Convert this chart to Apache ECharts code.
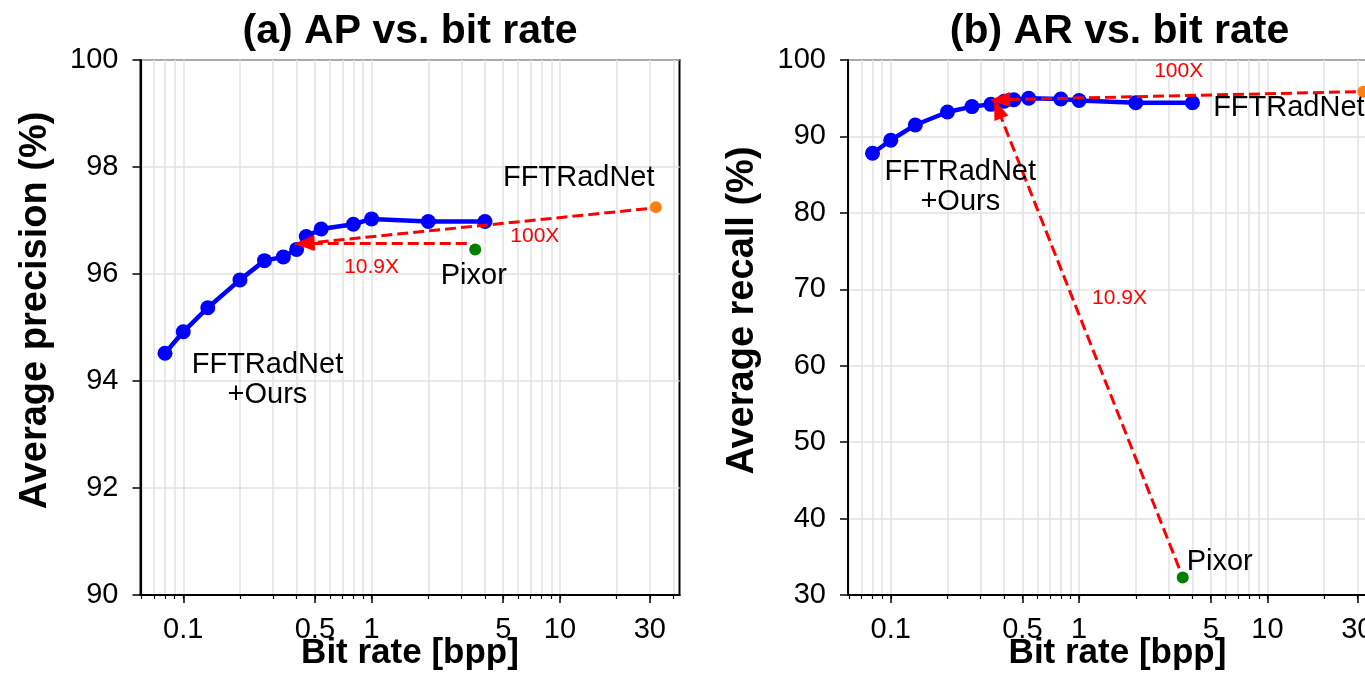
<!DOCTYPE html>
<html><head><meta charset="utf-8">
<script src="https://cdn.jsdelivr.net/npm/echarts@6/dist/echarts.min.js"></script>
<style>html,body{margin:0;padding:0;background:#fff}#c{width:1365px;height:692px}</style>
</head><body><div id="c"></div>
<script>
// ---- data ----
const bitRates = [0.08, 0.1, 0.135, 0.2, 0.27, 0.34, 0.4, 0.45, 0.54, 0.8, 1.0, 2.0, 4.0];
const oursAP   = [94.52, 94.92, 95.37, 95.89, 96.25, 96.32, 96.46, 96.70, 96.84, 96.93, 97.03, 96.98, 96.98];
const oursAR   = [87.8, 89.5, 91.5, 93.2, 93.9, 94.2, 94.6, 94.8, 95.0, 94.9, 94.7, 94.4, 94.4];
const pixorPoint = { rate: 3.55, ap: 96.46, ar: 32.3 };
const fftPoint   = { rate: 32.3, ap: 97.25, ar: 95.85 };
const xLabelTicks = [0.1, 0.5, 1, 5, 10, 30];
const xMinorTicks = [0.06, 0.07, 0.08, 0.09, 0.1, 0.2, 0.3, 0.4, 0.5, 0.6, 0.7, 0.8, 0.9, 1, 2, 3, 4, 5, 6, 7, 8, 9, 10, 20, 30, 40];
const apTicks = [90, 92, 94, 96, 98, 100];
const arTicks = [30, 40, 50, 60, 70, 80, 90, 100];
// arrows: [fromRate, fromVal, toRate, toVal]
const apArrow100 = [29, 97.22, 0.44, 96.57];
const apArrow109 = [3.2, 96.57, 0.44, 96.57];
const arArrow100 = [29.5, 95.85, 0.38, 94.8];
const arArrow109 = [3.4, 33.5, 0.37, 93.6];
// annotation texts: [text, rate, value, color, size]
const apNotes = [
  ['FFTRadNet', 12.6, 97.79, '#000000', 29],
  ['FFTRadNet\n+Ours', 0.28, 94.02, '#000000', 29],
  ['Pixor', 3.49, 95.96, '#000000', 29],
  ['10.9X', 1.0, 96.13, '#ff0000', 21],
  ['100X', 7.36, 96.71, '#ff0000', 21]
];
const arNotes = [
  ['FFTRadNet', 13.0, 93.72, '#000000', 29],
  ['FFTRadNet\n+Ours', 0.234, 83.38, '#000000', 29],
  ['Pixor', 5.58, 34.32, '#000000', 29],
  ['100X', 3.38, 98.56, '#ff0000', 21],
  ['10.9X', 1.64, 68.86, '#ff0000', 21]
];

const L = Math.log10;
const FONT = '"Liberation Sans", Arial, Helvetica, sans-serif';
const XMIN = -1.227, XMAX = 1.635;
const gridColor = '#e2e2e2';

function fmtX(v) {
  const r = Math.pow(10, v);
  return String(Math.round(r * 1000) / 1000);
}

function xAxes(gi) {
  return [
    {
      type: 'value', gridIndex: gi, min: XMIN, max: XMAX, position: 'bottom',
      name: 'Bit rate [bpp]', nameLocation: 'middle', nameGap: 41, nameMoveOverlap: false,
      nameTextStyle: { fontSize: 35, fontWeight: 'bold', color: '#000', fontFamily: FONT },
      axisLine: { show: true, onZero: false, lineStyle: { color: '#000', width: 2 } },
      axisTick: { show: true, customValues: xLabelTicks.map(L), length: 8, lineStyle: { color: '#000', width: 1.5 } },
      axisLabel: { show: true, customValues: xLabelTicks.map(L), formatter: fmtX, fontSize: 29, color: '#000', fontFamily: FONT, margin: 20 },
      splitLine: { show: false }
    },
    {
      type: 'value', gridIndex: gi, min: XMIN, max: XMAX, position: 'bottom',
      axisLine: { show: false, onZero: false },
      axisTick: { show: true, customValues: xMinorTicks.map(L), length: 4, lineStyle: { color: '#000', width: 1.2 } },
      axisLabel: { show: false },
      splitLine: { show: true, lineStyle: { color: gridColor, width: 1.5 } }
    }
  ];
}

function yAxis(gi, name, ticks, gap) {
  return {
    type: 'value', gridIndex: gi, min: ticks[0], max: ticks[ticks.length - 1],
    interval: ticks[1] - ticks[0], position: 'left',
    name: name, nameLocation: 'middle', nameGap: gap, nameRotate: 90, nameMoveOverlap: false,
    nameTextStyle: { fontSize: 38, fontWeight: 'bold', color: '#000', fontFamily: FONT, padding: [0, 0, 0, 34] },
    axisLine: { show: true, onZero: false, lineStyle: { color: '#000', width: 2 } },
    axisTick: { show: true, length: 8, lineStyle: { color: '#000', width: 1.5 } },
    axisLabel: { fontSize: 29, color: '#000', fontFamily: FONT, margin: 22 },
    splitLine: { show: true, lineStyle: { color: gridColor, width: 1.5 } }
  };
}

function seriesFor(gi, vals, pixVal, fftVal, a100, a109, notes) {
  const xi = gi * 2;
  const arrowLine = (a) => [{ coord: [L(a[0]), a[1]] }, { coord: [L(a[2]), a[3]] }];
  return [
    {
      type: 'line', xAxisIndex: xi, yAxisIndex: gi, z: 3,
      data: bitRates.map((b, i) => [L(b), vals[i]]),
      symbol: 'circle', symbolSize: 15, showSymbol: true,
      itemStyle: { color: '#0000ff', opacity: 1 }, lineStyle: { color: '#0000ff', width: 4.5 }
    },
    {
      type: 'scatter', xAxisIndex: xi, yAxisIndex: gi, z: 3,
      data: [[L(pixorPoint.rate), pixVal]], symbolSize: 12, itemStyle: { color: '#008000', opacity: 1 }
    },
    {
      type: 'scatter', xAxisIndex: xi, yAxisIndex: gi, z: 3,
      data: [[L(fftPoint.rate), fftVal]], symbolSize: 12, itemStyle: { color: '#ff7f0e', opacity: 1 }
    },
    {
      type: 'line', xAxisIndex: xi, yAxisIndex: gi, z: 5, data: [],
      markLine: {
        silent: true, symbol: ['none', 'triangle'], symbolSize: [15, 20],
        label: { show: false },
        lineStyle: { color: '#ff0000', width: 3, type: [11, 5], opacity: 1 },
        data: [arrowLine(a100), arrowLine(a109)]
      }
    },
    {
      type: 'scatter', xAxisIndex: xi, yAxisIndex: gi, z: 6, symbolSize: 0,
      itemStyle: { opacity: 1 },
      data: notes.map(n => ({
        value: [L(n[1]), n[2]],
        label: { show: true, position: 'inside', formatter: n[0], color: n[3], fontSize: n[4],
                 fontFamily: FONT, align: 'center', verticalAlign: 'middle', lineHeight: n[4] + 1,
                 opacity: 1, textBorderWidth: 0 }
      }))
    }
  ];
}

const chart = echarts.init(document.getElementById('c'), null, { renderer: 'canvas' });
chart.setOption({
  animation: false,
  backgroundColor: '#fff',
  title: [
    { text: '(a) AP vs. bit rate', left: 405, top: 6, textAlign: 'center',
      textStyle: { fontSize: 41, fontWeight: 'bold', color: '#000', fontFamily: FONT } },
    { text: '(b) AR vs. bit rate', left: 1114.5, top: 6, textAlign: 'center',
      textStyle: { fontSize: 41, fontWeight: 'bold', color: '#000', fontFamily: FONT } }
  ],
  grid: [
    { left: 140.5, top: 60, width: 539, height: 535, show: true, borderColor: '#000', borderWidth: 2, backgroundColor: 'transparent', containLabel: false, outerBoundsMode: 'none' },
    { left: 848, top: 60, width: 539, height: 535, show: true, borderColor: '#000', borderWidth: 2, backgroundColor: 'transparent', containLabel: false, outerBoundsMode: 'none' }
  ],
  xAxis: [].concat(xAxes(0), xAxes(1)),
  yAxis: [
    yAxis(0, 'Average precision (%)', apTicks, 86),
    yAxis(1, 'Average recall (%)', arTicks, 86)
  ],
  series: [].concat(
    seriesFor(0, oursAP, pixorPoint.ap, fftPoint.ap, apArrow100, apArrow109, apNotes),
    seriesFor(1, oursAR, pixorPoint.ar, fftPoint.ar, arArrow100, arArrow109, arNotes)
  )
});
</script>
</body></html>
